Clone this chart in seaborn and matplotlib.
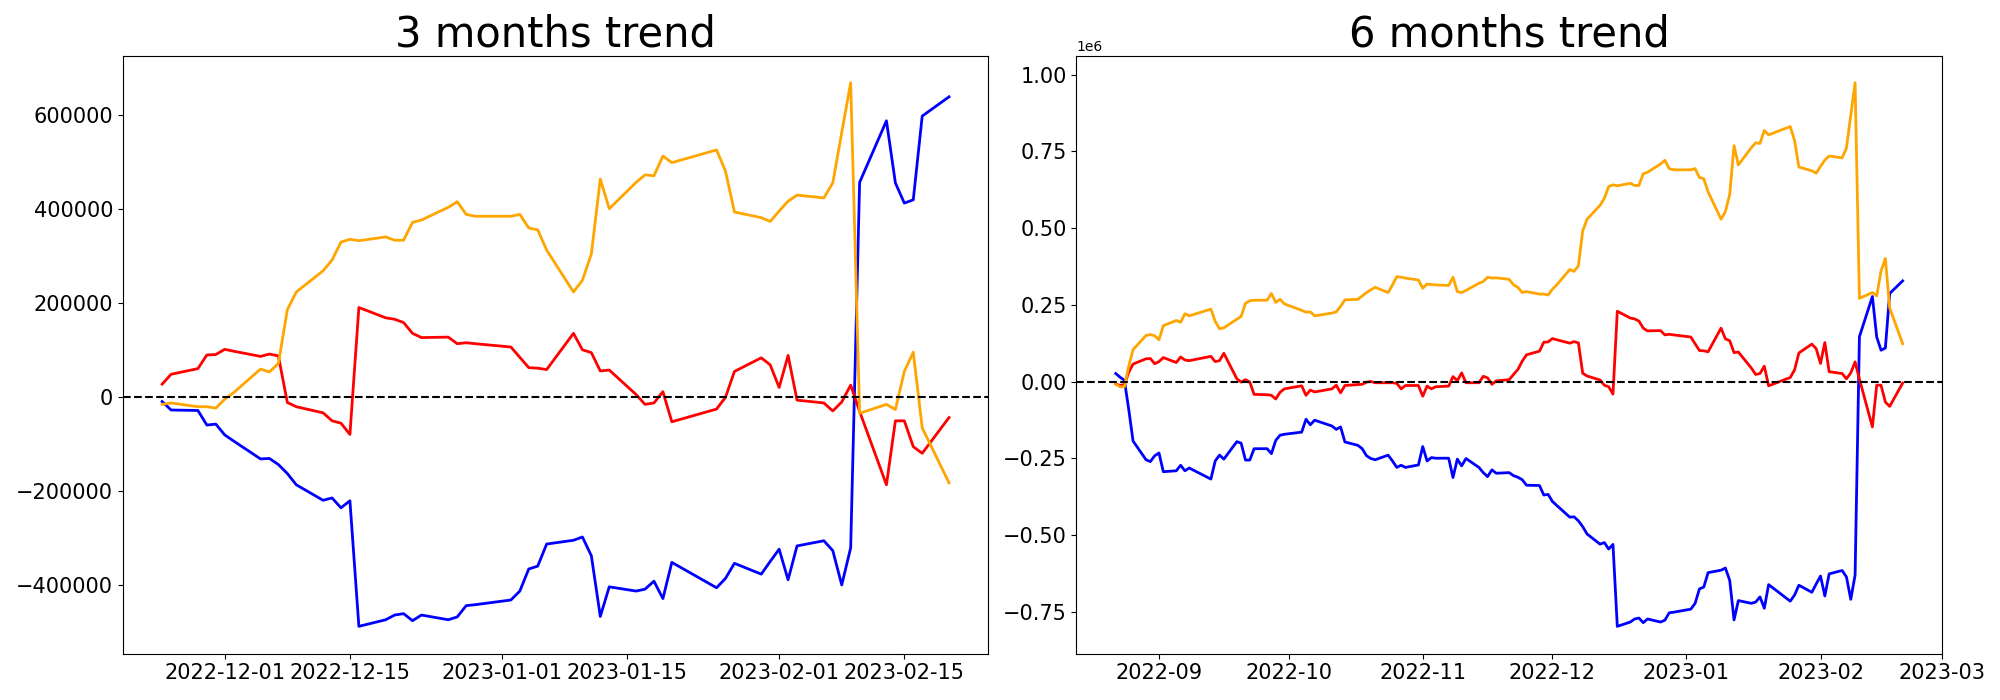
import numpy as np
import pandas as pd
import seaborn as sns
import matplotlib.pyplot as plt
import matplotlib.dates as mdates


# trading days (market closed on these weekdays)
holidays = ['2022-09-09', '2022-09-12', '2022-10-03', '2022-10-10',
            '2022-12-30', '2023-01-23', '2023-01-24']
days_6m = pd.bdate_range('2022-08-22', '2023-02-20')
days_6m = days_6m[~days_6m.isin(pd.to_datetime(holidays))]
days_3m = days_6m[days_6m >= '2022-11-24']

# cumulative values, in thousands
blue_3m = [-10, -28, -29, -60, -58, -81, -94, -132, -131, -144, -163, -187,
           -220, -215, -236, -221, -488, -474, -464, -461, -476, -464, -474,
           -468, -444, -442, -432, -413, -366, -360, -313, -305, -298, -338,
           -467, -404, -413, -409, -392, -429, -352, -406, -386, -354, -377,
           -350, -324, -389, -317, -306, -327, -400, -321, 456, 587, 455,
           412, 419, 597, 638]
red_3m = [27, 48, 60, 89, 90, 101, 97, 86, 91, 87, -12, -21, -34, -51, -56,
          -80, 190, 168, 165, 158, 135, 126, 127, 113, 115, 113, 106, 84, 62,
          61, 58, 135, 100, 94, 55, 57, 5, -16, -13, 11, -53, -26, -1, 54, 83,
          68, 20, 88, -7, -13, -30, -11, 25, -31, -187, -51, -51, -106, -120,
          -44]
orange_3m = [-16, -13, -21, -21, -24, -5, 9, 59, 53, 71, 185, 223, 268, 291,
             329, 335, 332, 340, 333, 333, 371, 376, 403, 415, 388, 384, 384,
             388, 359, 355, 312, 223, 248, 304, 463, 400, 456, 472, 470, 512,
             498, 525, 480, 393, 381, 373, 395, 416, 429, 423, 455, 562, 668,
             -35, -16, -27, 54, 95, -66, -183]

blue_6m = [26, 14, 4, -91, -194, -255, -261, -242, -233, -294, -291, -273,
           -291, -282, -318, -259, -240, -253, -196, -201, -256, -256, -219,
           -219, -235, -192, -175, -172, -165, -123, -141, -126, -145, -156,
           -148, -197, -208, -219, -242, -251, -255, -240, -259, -280, -273,
           -280, -272, -212, -259, -248, -250, -250, -313, -253, -275, -251,
           -280, -297, -310, -288, -299, -297, -307, -312,
           -320, -338, -339, -370, -368, -391, -404, -442, -441, -454, -473,
           -497, -530, -525, -546, -531, -798, -784, -774, -771, -786, -774,
           -784, -778, -754, -752, -742, -723, -676, -670, -623, -615, -608,
           -648, -777, -714, -723, -719, -702, -739, -662, -716, -696, -664,
           -687, -660, -634, -699, -627, -616, -637, -710, -631, 146, 277,
           145, 102, 109, 287, 328]
red_6m = [-8, -13, -10, 30, 57, 74, 75, 58, 65, 78, 62, 80, 70, 68, 82, 65,
          68, 92, 9, -2, 6, -2, -42, -43, -45, -57, -35, -24, -14, -45, -28,
          -34, -24, -12, -37, -13, -10, -9, -2, 0, -4, -4, -4, -6, -24, -13,
          -13, -48, -15, -24, -17, -15, 16, 3, 28, -4, -4, 17, 12, -9, 2, 6,
          23, 39,
          66, 87, 99, 128, 129, 140, 136, 125, 130, 126, 27, 18, 5, -12, -17,
          -41, 229, 207, 204, 197, 174, 165, 166, 152, 154, 152, 145, 123,
          101, 100, 97, 174, 139, 133, 94, 96, 44, 23, 26, 50, -14, 13, 38,
          93, 122, 107, 59, 127, 32, 26, 9, 28, 64, 8, -148, -12, -12, -67,
          -81, -5]
orange_6m = [-9, -17, -17, 50, 104, 150, 153, 149, 136, 182, 199, 193, 221,
             214, 236, 196, 172, 175, 203, 212, 255, 263, 265, 265, 287, 258,
             268, 253, 232, 226, 227, 214, 223, 227, 245, 266, 268, 279, 290,
             299, 307, 290, 315, 342, 340, 337, 331, 304, 318, 316, 315, 313,
             340, 293, 290, 297, 320, 326, 340, 337, 338, 333, 315, 307,
             290, 293, 285, 285, 282, 301, 315, 365, 359, 377, 491, 529, 574,
             597, 635, 641, 638, 646, 639, 639, 677, 682, 709, 721, 694, 690,
             690, 694, 665, 661, 618, 529, 554, 610, 769, 706, 762, 778, 776,
             818, 804, 831, 786, 699, 687, 679, 701, 722, 735, 729, 761, 868,
             974, 271, 290, 279, 360, 401, 240, 123]


fig, axes = plt.subplots(1, 2, figsize=(20, 7), dpi=100)

panels = [
    (axes[0], days_3m, blue_3m, red_3m, orange_3m, '3 months trend'),
    (axes[1], days_6m, blue_6m, red_6m, orange_6m, '6 months trend'),
]
for ax, x, b, r, o, title in panels:
    for vals, col in ((b, 'blue'), (r, 'red'), (o, 'orange')):
        sns.lineplot(x=x, y=np.array(vals) * 1000, color=col, linewidth=2, ax=ax)
    ax.axhline(0, color='black', linestyle='--', linewidth=1.5)
    ax.set_title(title, fontsize=30)
    ax.set_xlabel('')
    ax.set_ylabel('')
    ax.tick_params(labelsize=15)

# date ticks
axes[0].xaxis.set_major_locator(mdates.DayLocator(bymonthday=[1, 15]))
axes[0].xaxis.set_major_formatter(mdates.DateFormatter('%Y-%m-%d'))
axes[1].xaxis.set_major_locator(mdates.MonthLocator())
axes[1].xaxis.set_major_formatter(mdates.DateFormatter('%Y-%m'))

plt.subplots_adjust(left=0.0614, right=0.971, bottom=0.0664, top=0.9207, wspace=0.1017)
plt.savefig('out.png')
